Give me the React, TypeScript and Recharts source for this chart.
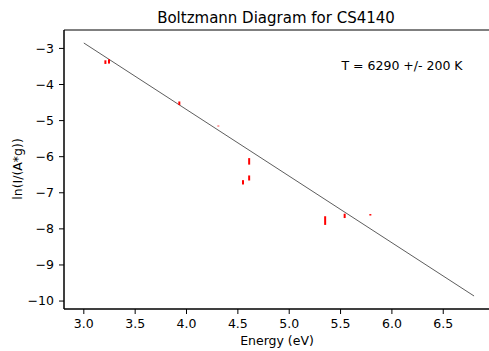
import React from "react";
import {
  ComposedChart,
  Line,
  Scatter,
  ErrorBar,
  XAxis,
  YAxis,
  ReferenceArea,
} from "recharts";

const energy = [3.21, 3.245, 3.93, 4.31, 4.55, 4.61, 4.61, 5.35, 5.54, 5.79];
const lnValues = [-3.38, -3.36, -4.52, -5.15, -6.71, -6.13, -6.59, -7.77, -7.64, -7.61];
const errors = [0.05, 0.06, 0.05, 0.01, 0.06, 0.09, 0.07, 0.12, 0.06, 0.02];

const fitEnergy = [3.0, 6.8];
const fitLn = [-2.85, -9.86];

const xTicks = [3.0, 3.5, 4.0, 4.5, 5.0, 5.5, 6.0, 6.5];
const yTicks = [-10, -9, -8, -7, -6, -5, -4, -3];
const xDomain = [2.807, 6.965];
const yDomain = [-10.22, -2.49];

const titleText = "Boltzmann Diagram for CS4140";
const xLabel = "Energy (eV)";
const yLabel = "ln(I/(A*g))";
const annotation = "T = 6290 +/- 200 K";

const points = energy.map((x, i) => ({ x, y: lnValues[i], err: errors[i] }));
const fit = fitEnergy.map((x, i) => ({ x, y: fitLn[i] }));

const FONT = "'DejaVu Sans', sans-serif";

const fmtX = (v: number) => v.toFixed(1);
const fmtY = (v: number) => (v < 0 ? "\u2212" + Math.abs(v) : String(v));

export default function App() {
  return (
    <div
      style={{
        position: "absolute",
        left: 0,
        top: 0,
        width: 489,
        height: 351,
        background: "#fff",
        fontFamily: FONT,
        overflow: "hidden",
      }}
    >
      <ComposedChart
        width={489}
        height={351}
        margin={{ top: 30, right: -2, bottom: 0, left: 0 }}
      >
        <XAxis
          type="number"
          dataKey="x"
          domain={xDomain}
          ticks={xTicks}
          tickFormatter={fmtX}
          allowDataOverflow
          height={42}
          tickSize={5}
          tickMargin={5}
          stroke="#000"
          tick={{ fill: "#000", fontSize: 12.5, fontFamily: FONT }}
          interval={0}
        />
        <YAxis
          type="number"
          dataKey="y"
          domain={yDomain}
          ticks={yTicks}
          tickFormatter={fmtY}
          allowDataOverflow
          width={64}
          tickSize={5}
          tickMargin={5}
          stroke="#000"
          tick={{ fill: "#000", fontSize: 12.5, fontFamily: FONT }}
          interval={0}
        />
        <ReferenceArea
          x1={xDomain[0]}
          x2={xDomain[1]}
          y1={yDomain[0]}
          y2={yDomain[1]}
          fill="none"
          fillOpacity={0}
          stroke="#000"
          strokeWidth={1}
          ifOverflow="extendDomain"
        />
        <Line
          data={fit}
          dataKey="y"
          type="linear"
          stroke="#333"
          strokeWidth={0.8}
          dot={false}
          isAnimationActive={false}
        />
        <Scatter
          data={points}
          dataKey="y"
          shape={() => <g />}
          isAnimationActive={false}
        >
          <ErrorBar
            dataKey="err"
            direction="y"
            width={0}
            stroke="#ff0000"
            strokeWidth={2}
            isAnimationActive={false}
          />
        </Scatter>
      </ComposedChart>
      <svg
        width={489}
        height={351}
        style={{ position: "absolute", left: 0, top: 0, pointerEvents: "none" }}
      >
        <text
          x={276}
          y={23}
          textAnchor="middle"
          fontSize={15}
          fontFamily={FONT}
          fill="#000"
        >
          {titleText}
        </text>
        <text
          x={277}
          y={345}
          textAnchor="middle"
          fontSize={12.5}
          fontFamily={FONT}
          fill="#000"
        >
          {xLabel}
        </text>
        <text
          x={22}
          y={169}
          textAnchor="middle"
          fontSize={12.5}
          fontFamily={FONT}
          fill="#000"
          transform="rotate(-90 22 169)"
        >
          {yLabel}
        </text>
        <text
          x={341.5}
          y={70}
          textAnchor="start"
          fontSize={12.5}
          fontFamily={FONT}
          fill="#000"
        >
          {annotation}
        </text>
      </svg>
    </div>
  );
}
